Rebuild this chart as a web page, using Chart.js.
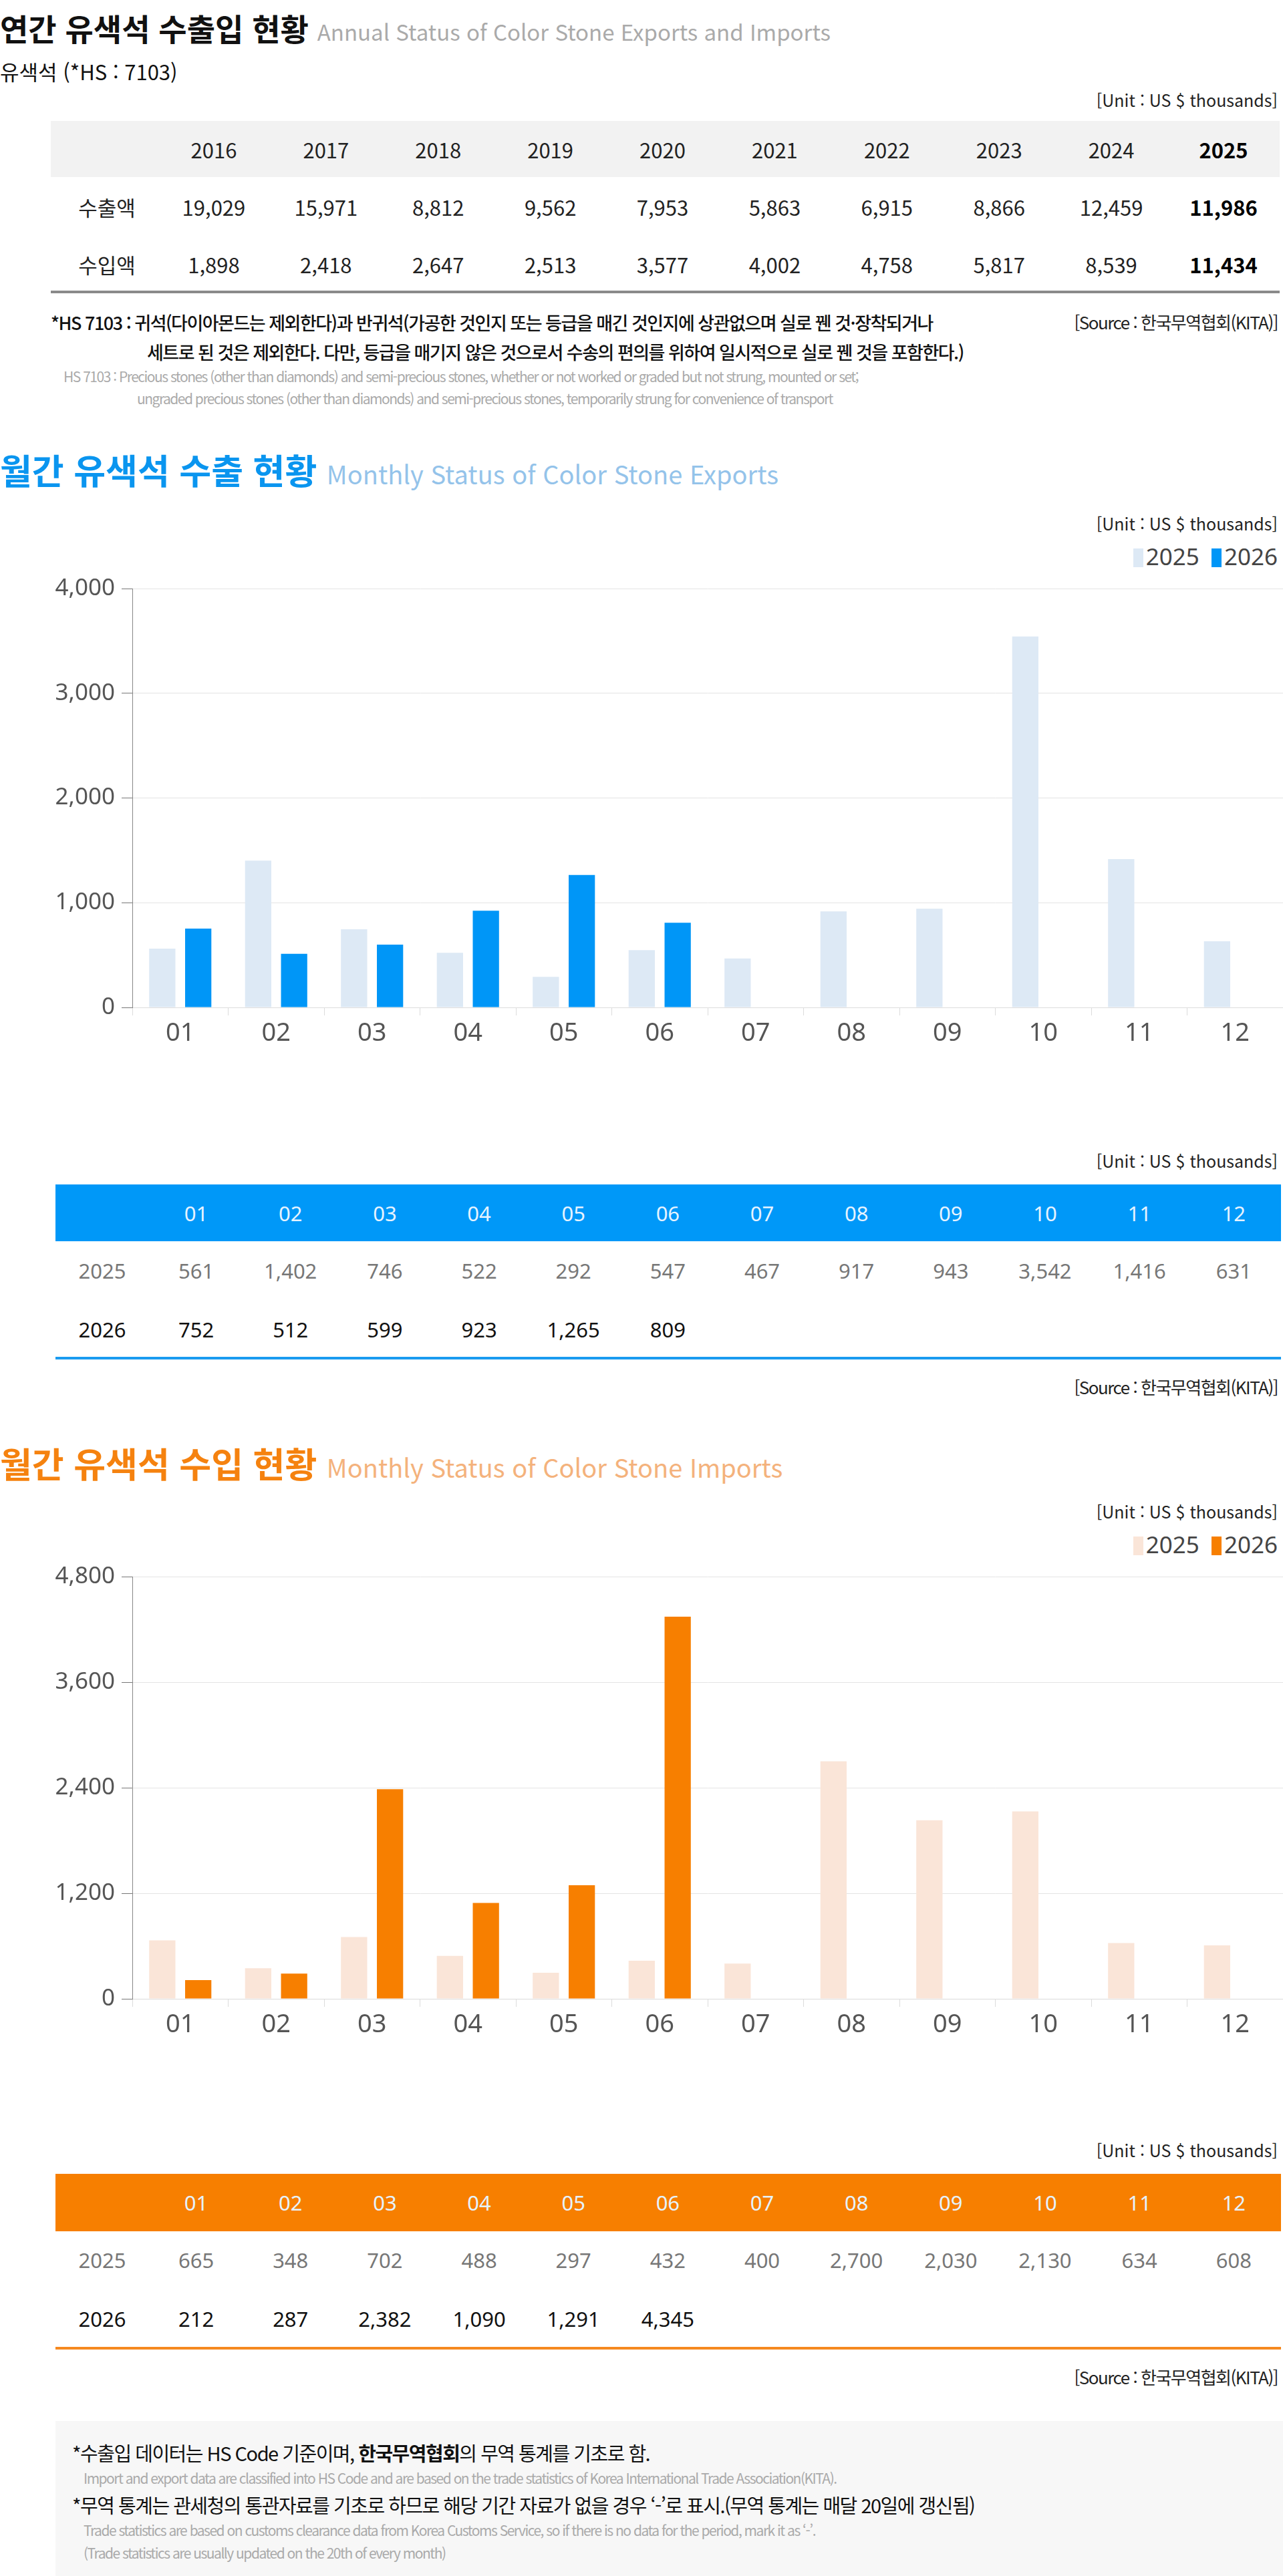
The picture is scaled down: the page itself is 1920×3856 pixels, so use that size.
<!DOCTYPE html>
<html lang="ko">
<head>
<meta charset="utf-8">
<title>유색석 수출입 현황</title>
<script src="https://cdn.jsdelivr.net/npm/chart.js"></script>
<style>
  body { margin:0; width:1920px; height:3856px; background:#fff; font-family:"Noto Sans CJK KR","Noto Sans",sans-serif; position:relative; overflow:hidden; }
  .a { position:absolute; line-height:1; white-space:nowrap; }
  .r { right:8px; }
  table { position:absolute; border-collapse:collapse; table-layout:fixed; }
  td { text-align:center; padding:0; }
  .legend span.box { display:inline-block; width:15px; height:28px; vertical-align:-3px; margin-right:4px; }
  .legend { font-size:35px; color:#444; font-family:"Noto Sans","Noto Sans CJK KR"; }
  .cond { letter-spacing:-1.5px; }
</style>
</head>
<body>
<!-- 연간 -->
<div class="a" style="left:0;top:18px;font-size:46px;font-weight:700;color:#111">연간 유색석 수출입 현황 <span style="font-size:33px;font-weight:400;color:#aaa">Annual Status of Color Stone Exports and Imports</span></div>
<div class="a" style="left:0;top:91px;font-size:31px;color:#111">유색석 (*HS : 7103)</div>
<div class="a r" style="top:137px;font-size:25px;color:#222">[Unit : US $ thousands]</div>
<div style="position:absolute;left:76px;top:181px;width:1839px;height:84px;background:#f2f2f2"></div>
<table id="yearTable" style="left:76px;top:181px;width:1839px;font-size:31px;color:#222"></table>
<div style="position:absolute;left:76px;top:435px;width:1839px;height:4px;background:#8a8a8a"></div>
<div class="a cond" style="left:76px;top:469px;font-size:27px;color:#111;font-weight:500">*HS 7103 : 귀석(다이아몬드는 제외한다)과 반귀석(가공한 것인지 또는 등급을 매긴 것인지에 상관없으며 실로 꿴 것·장착되거나</div>
<div class="a cond" style="left:220px;top:513px;font-size:27px;color:#111;font-weight:500">세트로 된 것은 제외한다. 다만, 등급을 매기지 않은 것으로서 수송의 편의를 위하여 일시적으로 실로 꿴 것을 포함한다.)</div>
<div class="a r cond" style="top:469px;font-size:26px;color:#222">[Source : 한국무역협회(KITA)]</div>
<div class="a cond" style="left:95px;top:553px;font-size:21px;color:#aaa">HS 7103 : Precious stones (other than diamonds) and semi-precious stones, whether or not worked or graded but not strung, mounted or set;</div>
<div class="a cond" style="left:205px;top:586px;font-size:21px;color:#aaa">ungraded precious stones (other than diamonds) and semi-precious stones, temporarily strung for convenience of transport</div>

<!-- 수출 -->
<div class="a" style="left:0;top:677px;font-size:52px;font-weight:700;color:#0a95ef">월간 유색석 수출 현황 <span style="font-size:38px;font-weight:400;color:#94c3ea">Monthly Status of Color Stone Exports</span></div>
<div class="a r" style="top:771px;font-size:25px;color:#222">[Unit : US $ thousands]</div>
<div class="a r legend" id="expLegend" style="top:815px"></div>
<div style="position:absolute;left:0;top:850px;width:1920px;height:720px"><canvas id="expChart"></canvas></div>
<div class="a r" style="top:1725px;font-size:25px;color:#222">[Unit : US $ thousands]</div>
<div style="position:absolute;left:83px;top:1773px;width:1834px;height:85px;background:#0098f8"></div>
<table id="expTable" style="left:83px;top:1773px;width:1834px;font-size:31px;font-family:'Noto Sans','Noto Sans CJK KR'"></table>
<div style="position:absolute;left:83px;top:2031px;width:1834px;height:4px;background:#1a9bf0"></div>
<div class="a r cond" style="top:2063px;font-size:26px;color:#222">[Source : 한국무역협회(KITA)]</div>

<!-- 수입 -->
<div class="a" style="left:0;top:2164px;font-size:52px;font-weight:700;color:#f5820f">월간 유색석 수입 현황 <span style="font-size:38px;font-weight:400;color:#f4b27c">Monthly Status of Color Stone Imports</span></div>
<div class="a r" style="top:2250px;font-size:25px;color:#222">[Unit : US $ thousands]</div>
<div class="a r legend" id="impLegend" style="top:2294px"></div>
<div style="position:absolute;left:0;top:2329px;width:1920px;height:725px"><canvas id="impChart"></canvas></div>
<div class="a r" style="top:3206px;font-size:25px;color:#222">[Unit : US $ thousands]</div>
<div style="position:absolute;left:83px;top:3254px;width:1834px;height:86px;background:#f77f00"></div>
<table id="impTable" style="left:83px;top:3254px;width:1834px;font-size:31px;font-family:'Noto Sans','Noto Sans CJK KR'"></table>
<div style="position:absolute;left:83px;top:3513px;width:1834px;height:4px;background:#f5891f"></div>
<div class="a r cond" style="top:3545px;font-size:26px;color:#222">[Source : 한국무역협회(KITA)]</div>

<!-- 주석 -->
<div style="position:absolute;left:83px;top:3624px;width:1837px;height:232px;background:#f7f7f7"></div>
<div class="a cond" style="left:108px;top:3657px;font-size:29px;color:#111">*수출입 데이터는 HS Code 기준이며, <b>한국무역협회</b>의 무역 통계를 기초로 함.</div>
<div class="a cond" style="left:125px;top:3699px;font-size:21px;color:#aaa">Import and export data are classified into HS Code and are based on the trade statistics of Korea International  Trade Association(KITA).</div>
<div class="a cond" style="left:108px;top:3735px;font-size:29px;color:#111">*무역 통계는 관세청의  통관자료를 기초로 하므로 해당 기간 자료가 없을 경우 ‘-’로 표시.(무역 통계는 매달 20일에 갱신됨)</div>
<div class="a cond" style="left:125px;top:3777px;font-size:21px;color:#aaa">Trade statistics are based on customs clearance data from Korea Customs Service, so if there is no data for the period, mark it as ‘-’.</div>
<div class="a cond" style="left:125px;top:3811px;font-size:21px;color:#aaa">(Trade statistics are usually updated on the 20th of every month)</div>

<script>
const years = ['2016','2017','2018','2019','2020','2021','2022','2023','2024','2025'];
const annualExports = [19029, 15971, 8812, 9562, 7953, 5863, 6915, 8866, 12459, 11986];
const annualImports = [1898, 2418, 2647, 2513, 3577, 4002, 4758, 5817, 8539, 11434];

const months = ['01','02','03','04','05','06','07','08','09','10','11','12'];
const seriesNames = ['2025', '2026'];
const exports2025 = [561, 1402, 746, 522, 292, 547, 467, 917, 943, 3542, 1416, 631];
const exports2026 = [752, 512, 599, 923, 1265, 809];
const imports2025 = [665, 348, 702, 488, 297, 432, 400, 2700, 2030, 2130, 634, 608];
const imports2026 = [212, 287, 2382, 1090, 1291, 4345];
const exportTicks = { max: 4000, step: 1000 };
const importTicks = { max: 4800, step: 1200 };

const fmt = v => v.toLocaleString('en-US');

// annual table
let t = '<colgroup><col style="width:160px">' + years.map(() => '<col>').join('') + '</colgroup>';
t += '<tr style="height:84px"><td></td>' + years.map((y, i) => `<td style="${i == 9 ? 'font-weight:700;color:#000' : ''}">${y}</td>`).join('') + '</tr>';
t += '<tr style="height:89px"><td style="padding-left:8px">수출액</td>' + annualExports.map((v, i) => `<td style="${i == 9 ? 'font-weight:700;color:#000' : ''}">${fmt(v)}</td>`).join('') + '</tr>';
t += '<tr style="height:82px"><td style="padding-left:8px">수입액</td>' + annualImports.map((v, i) => `<td style="${i == 9 ? 'font-weight:700;color:#000' : ''}">${fmt(v)}</td>`).join('') + '</tr>';
document.getElementById('yearTable').innerHTML = t;

function monthTable(id, a, b) {
    let h = '<colgroup><col style="width:140px">' + months.map(() => '<col>').join('') + '</colgroup>';
    h += '<tr style="height:85px;color:#e6f3ff"><td></td>' + months.map(m => `<td>${m}</td>`).join('') + '</tr>';
    h += `<tr style="height:88px;color:#777"><td>${seriesNames[0]}</td>` + months.map((m, i) => `<td>${a[i] != null ? fmt(a[i]) : ''}</td>`).join('') + '</tr>';
    h += `<tr style="height:87px;color:#111"><td>${seriesNames[1]}</td>` + months.map((m, i) => `<td>${b[i] != null ? fmt(b[i]) : ''}</td>`).join('') + '</tr>';
    document.getElementById(id).innerHTML = h;
}
monthTable('expTable', exports2025, exports2026);
monthTable('impTable', imports2025, imports2026);

function legend(id, c1, c2) {
    document.getElementById(id).innerHTML =
        `<span class="box" style="background:${c1}"></span>${seriesNames[0]} &nbsp;<span class="box" style="background:${c2}"></span>${seriesNames[1]}`;
}

function barChart(id, a, b, c1, c2, ticks) {
    new Chart(document.getElementById(id), {
        type: 'bar',
        data: {
            labels: months,
            datasets: [
                { label: seriesNames[0], data: a, backgroundColor: c1 },
                { label: seriesNames[1], data: b, backgroundColor: c2 }
            ]
        },
        options: {
            responsive: true,
            maintainAspectRatio: false,
            animation: false,
            layout: { padding: { top: 12, left: 0, right: 0, bottom: 0 } },
            plugins: { legend: { display: false }, tooltip: { enabled: false } },
            datasets: { bar: { categoryPercentage: 0.75, barPercentage: 0.73 } },
            scales: {
                x: {
                    grid: { offset: true, drawOnChartArea: false, tickLength: 12, color: '#dcdcdc' },
                    border: { color: '#dcdcdc' },
                    ticks: { color: '#555', font: { size: 38, family: 'Noto Sans' }, padding: 4 },
                    afterFit: s => { s.height = 62; }
                },
                y: {
                    min: 0, max: ticks.max,
                    grid: { color: '#e4e4e4', tickColor: '#777', tickLength: 16 },
                    border: { color: '#888' },
                    ticks: { stepSize: ticks.step, color: '#555', font: { size: 35, family: 'Noto Sans' }, padding: 10,
                             callback: v => fmt(v) },
                    afterFit: s => { s.width = 198; }
                }
            }
        }
    });
}
legend('expLegend', '#dde9f5', '#0096f7');
legend('impLegend', '#fae5d8', '#f77f00');
barChart('expChart', exports2025, exports2026, '#dde9f5', '#0096f7', exportTicks);
barChart('impChart', imports2025, imports2026, '#fae5d8', '#f77f00', importTicks);
</script>
</body>
</html>
